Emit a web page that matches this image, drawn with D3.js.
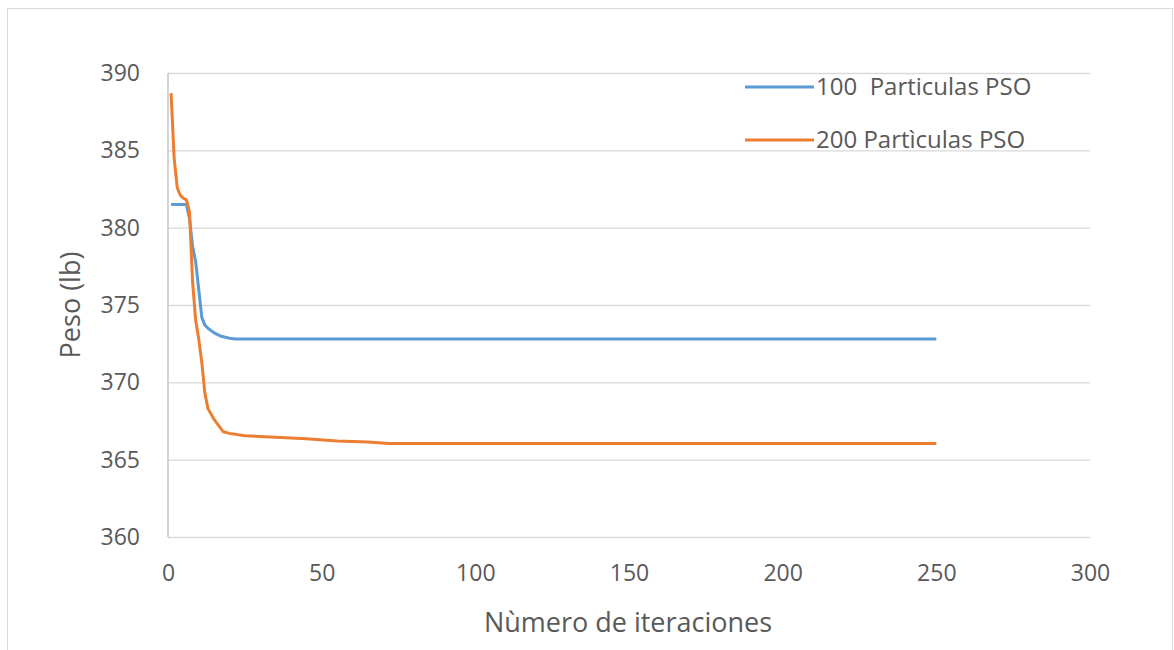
<!DOCTYPE html>
<html>
<head>
<meta charset="utf-8">
<script src="https://cdn.jsdelivr.net/npm/d3@7"></script>
<style>
  body { margin: 0; background: #fff; }
  svg { font-family: "Open Sans", "Liberation Sans", sans-serif; }
  text { white-space: pre; }
</style>
</head>
<body>
<svg id="chart" width="1174" height="650"></svg>
<script>
// iterations and weight values
const iter100 = [1, 2, 3, 4, 5, 6, 7, 8, 9, 10, 11, 12, 13, 15, 17, 20, 22, 250];
const peso100 = [381.5, 381.5, 381.5, 381.5, 381.5, 381.5, 380.6, 378.8, 377.8, 376, 374.2, 373.7, 373.5, 373.2, 373, 372.85, 372.8, 372.8];

const iter200 = [1, 2, 3, 4, 5, 6, 7, 8, 9, 10, 11, 12, 13, 15, 18, 20, 25, 35, 45, 55, 65, 72, 100, 150, 200, 250];
const peso200 = [388.7, 384.5, 382.6, 382.1, 381.9, 381.8, 381, 376.5, 374, 372.8, 371.3, 369.3, 368.3, 367.6, 366.8, 366.7, 366.55, 366.45, 366.35, 366.2, 366.15, 366.05, 366.05, 366.05, 366.05, 366.05];

const seriesNames = ["100  Particulas PSO", "200 Partìculas PSO"];
const seriesColors = ["#5B9BD5", "#ED7D31"];
const xTicks = [0, 50, 100, 150, 200, 250, 300];
const yTicks = [360, 365, 370, 375, 380, 385, 390];

const svg = d3.select("#chart");
const margin = {top: 73, right: 84, bottom: 113, left: 168};
const width = +svg.attr("width") - margin.left - margin.right,
      height = +svg.attr("height") - margin.top - margin.bottom;

// outer chart border
svg.append("rect")
    .attr("x", 7.5).attr("y", 8.5)
    .attr("width", 1165).attr("height", 660)
    .attr("fill", "none").attr("stroke", "#d9d9d9");

const g = svg.append("g").attr("transform", "translate(" + margin.left + "," + margin.top + ")");

const x = d3.scaleLinear().domain([0, 300]).range([0, width]);
const y = d3.scaleLinear().domain([360, 390]).range([height, 0]);

// gridlines
g.append("g")
    .attr("class", "grid")
    .call(d3.axisLeft(y).tickValues(yTicks).tickSize(-width).tickFormat(""))
    .call(a => a.select(".domain").remove())
    .call(a => a.selectAll("line").attr("stroke", "#d9d9d9").attr("stroke-width", 1.3));

// left axis line
g.append("line")
    .attr("x1", 0).attr("x2", 0).attr("y1", 0).attr("y2", height)
    .attr("stroke", "#bfbfbf").attr("stroke-width", 1.3);

// y tick labels
g.append("g")
    .call(d3.axisLeft(y).tickValues(yTicks).tickSize(0).tickPadding(28))
    .call(a => a.select(".domain").remove())
    .call(a => a.selectAll("text").attr("fill", "#595959").attr("font-size", 23)
        .attr("font-family", "\"Open Sans\", sans-serif"));

// x tick labels
g.append("g")
    .attr("transform", "translate(0," + height + ")")
    .call(d3.axisBottom(x).tickValues(xTicks).tickSize(0).tickPadding(28))
    .call(a => a.select(".domain").remove())
    .call(a => a.selectAll("text").attr("fill", "#595959").attr("font-size", 23)
        .attr("font-family", "\"Open Sans\", sans-serif"));

const line = d3.line()
    .x(d => x(d[0]))
    .y(d => y(d[1]));

const series = [
    d3.zip(iter100, peso100),
    d3.zip(iter200, peso200)
];

series.forEach((s, i) => {
    g.append("path")
        .datum(s)
        .attr("fill", "none")
        .attr("stroke", seriesColors[i])
        .attr("stroke-width", 3)
        .attr("stroke-linejoin", "round")
        .attr("d", line);
});

// axis titles
svg.append("text")
    .attr("x", 628).attr("y", 632)
    .attr("text-anchor", "middle")
    .attr("fill", "#595959").attr("font-size", 27)
    .text("Nùmero de iteraciones");

svg.append("text")
    .attr("transform", "translate(80,305) rotate(-90)")
    .attr("text-anchor", "middle")
    .attr("fill", "#595959").attr("font-size", 27)
    .text("Peso (lb)");

// legend
const legend = svg.append("g").attr("transform", "translate(745,87)");
seriesNames.forEach((name, i) => {
    const row = legend.append("g").attr("transform", "translate(0," + i * 53 + ")");
    row.append("line")
        .attr("x1", 0).attr("x2", 69)
        .attr("stroke", seriesColors[i]).attr("stroke-width", 3);
    row.append("text")
        .attr("x", 71).attr("dy", "0.35em")
        .attr("fill", "#595959").attr("font-size", 24)
        .text(name);
});
</script>
</body>
</html>
